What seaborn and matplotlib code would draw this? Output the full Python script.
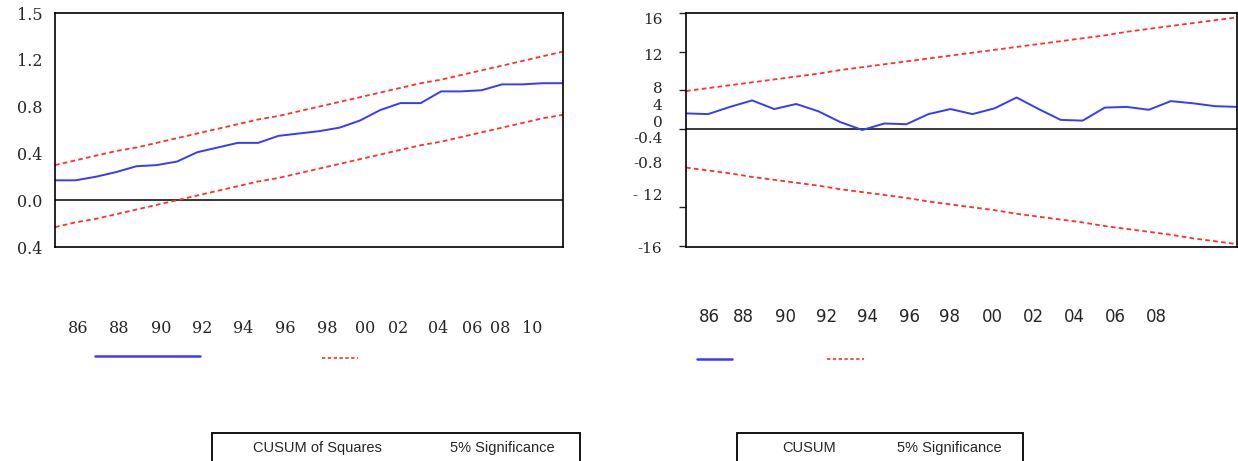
import matplotlib
matplotlib.use('Agg')
import matplotlib.pyplot as plt
import seaborn as sns
import pandas as pd
from matplotlib.lines import Line2D
from matplotlib.patches import Rectangle

# observations 1986-2011 (26 points)
years = list(range(1986, 2012))

# CUSUM of squares (left panel)
cusumsq = [0.17, 0.17, 0.20, 0.24, 0.29, 0.30, 0.33, 0.41, 0.45, 0.49, 0.49, 0.55, 0.57,
           0.59, 0.62, 0.68, 0.77, 0.83, 0.83, 0.93, 0.93, 0.94, 0.99, 0.99, 1.00, 1.00]
cusumsq_upper = [0.30, 0.34, 0.38, 0.42, 0.45, 0.49, 0.53, 0.57, 0.61, 0.65, 0.69, 0.72, 0.76,
                 0.80, 0.84, 0.88, 0.92, 0.96, 1.00, 1.03, 1.07, 1.11, 1.15, 1.19, 1.23, 1.27]
cusumsq_lower = [-0.23, -0.19, -0.16, -0.12, -0.08, -0.04, 0.00, 0.04, 0.08, 0.12, 0.16, 0.19, 0.23,
                 0.27, 0.31, 0.35, 0.39, 0.43, 0.47, 0.50, 0.54, 0.58, 0.62, 0.66, 0.70, 0.73]

# CUSUM (right panel)
cusum = [2.1, 2.0, 3.0, 3.9, 2.7, 3.4, 2.4, 0.9, -0.2, 0.7, 0.6, 2.0, 2.7,
         2.0, 2.8, 4.3, 2.7, 1.2, 1.1, 2.9, 3.0, 2.6, 3.8, 3.5, 3.1, 3.0]
cusum_upper = [5.2, 5.6, 6.0, 6.4, 6.8, 7.2, 7.6, 8.1, 8.5, 8.9, 9.3, 9.7, 10.1,
               10.5, 10.9, 11.3, 11.7, 12.1, 12.5, 12.9, 13.4, 13.8, 14.2, 14.6, 15.0, 15.4]
cusum_lower = [-5.4, -5.8, -6.2, -6.7, -7.1, -7.5, -7.9, -8.4, -8.8, -9.2, -9.6, -10.1, -10.5,
               -10.9, -11.3, -11.8, -12.2, -12.6, -13.0, -13.5, -13.9, -14.3, -14.7, -15.2, -15.6, -16.0]

left_xlabels = ['86', '88', '90', '92', '94', '96', '98', '00', '02', '04', '06', '08', '10']
right_xlabels = ['86', '88', '90', '92', '94', '96', '98', '00', '02', '04', '06', '08']
left_yticks = [-0.4, 0.0, 0.4, 0.8, 1.2, 1.6]
left_ylabels = ['0.4', '0.0', '0.4', '0.8', '1.2', '1.5']
right_ymarks = [16, 10.6, 5.4, 0, -10.9, -16.3]
right_ylabel_pos = [15.3, 10.2, 5.7, 3.3, 1.0, -1.2, -4.7, -9.1, -16.4]
right_ylabels = ['16', '12', '8', '4', '0', '-0.4', '-0.8', '- 12', '-16']

sns.set_style('white')
BLUE = '#3a3aff'
RED = '#ff3030'
W, H = 1238, 461

fig = plt.figure(figsize=(W / 100, H / 100), dpi=100)


def px_axes(x0, y0, x1, y1):
    return fig.add_axes([x0 / W, 1 - y1 / H, (x1 - x0) / W, (y1 - y0) / H])


def draw_panel(ax, main, upper, lower):
    df = pd.DataFrame({'year': years, 'main': main, 'upper': upper, 'lower': lower})
    ax.axhline(0, color='black', lw=1.1, zorder=1)
    sns.lineplot(data=df, x='year', y='upper', color=RED, lw=1.3,
                 linestyle=(0, (2.6, 1.8)), ax=ax)
    sns.lineplot(data=df, x='year', y='lower', color=RED, lw=1.3,
                 linestyle=(0, (2.6, 1.8)), ax=ax)
    sns.lineplot(data=df, x='year', y='main', color=BLUE, lw=1.4, ax=ax)
    ax.set_xlim(years[0], years[-1])
    ax.set_xticks(years)
    ax.tick_params(axis='x', direction='out', length=4, width=1, labelbottom=False)
    ax.set_xlabel('')
    ax.set_ylabel('')
    for s in ax.spines.values():
        s.set_visible(True)
        s.set_color('black')
        s.set_linewidth(1.2)


# left panel: CUSUM of squares
ax1 = px_axes(55, 13, 563, 247)
draw_panel(ax1, cusumsq, cusumsq_upper, cusumsq_lower)
ax1.set_ylim(-0.4, 1.6)
ax1.set_yticks(left_yticks)
ax1.set_yticklabels(left_ylabels, fontfamily='DejaVu Serif', fontsize=11.5)
ax1.tick_params(axis='y', direction='out', length=4, width=1, pad=5)

# right panel: CUSUM
ax2 = px_axes(686, 13, 1237, 247)
draw_panel(ax2, cusum, cusum_upper, cusum_lower)
ax2.set_ylim(-16.3, 16)
ax2.set_yticks(right_ylabel_pos)
ax2.set_yticklabels(right_ylabels, fontfamily='DejaVu Serif', fontsize=11)
ax2.tick_params(axis='y', which='major', length=0, pad=17)
ax2.set_yticks(right_ymarks, minor=True)
ax2.tick_params(axis='y', which='minor', direction='out', length=5, width=1, left=True)

# year labels, detached below the plots as in the exported figure
left_label_x = [78, 119, 161, 202, 243, 285, 327, 365, 398, 438, 472, 500, 532]
for lab, x in zip(left_xlabels, left_label_x):
    fig.text(x / W, 1 - 328 / H, lab, ha='center', va='center',
             fontfamily='DejaVu Serif', fontsize=11.5)
right_label_x = [709, 743, 786, 827, 868, 909, 950, 992, 1033, 1074, 1115, 1156]
for lab, x in zip(right_xlabels, right_label_x):
    fig.text(x / W, 1 - 317 / H, lab, ha='center', va='center',
             fontfamily='DejaVu Sans', fontsize=12)

# legend keys
fig.add_artist(Line2D([95 / W, 200 / W], [1 - 356 / H] * 2, color=BLUE, lw=1.8))
fig.add_artist(Line2D([322 / W, 358 / W], [1 - 358 / H] * 2, color=RED, lw=1.2,
                      linestyle=(0, (2, 1.5))))
fig.add_artist(Line2D([697 / W, 732 / W], [1 - 359 / H] * 2, color=BLUE, lw=1.8))
fig.add_artist(Line2D([827 / W, 864 / W], [1 - 359 / H] * 2, color=RED, lw=1.2,
                      linestyle=(0, (2, 1.5))))

# legend boxes (cut off at the bottom)
for x0, x1 in [(212, 580), (737, 1023)]:
    fig.add_artist(Rectangle((x0 / W, -0.05), (x1 - x0) / W, (461 - 433) / H + 0.05,
                             transform=fig.transFigure, fill=False, ec='black', lw=1.3))
lt = dict(ha='left', va='center', fontfamily='Liberation Sans', fontsize=10.5)
fig.text(253 / W, 1 - 448 / H, 'CUSUM of Squares', **lt)
fig.text(450 / W, 1 - 448 / H, '5% Significance', **lt)
fig.text(782 / W, 1 - 448 / H, 'CUSUM', **lt)
fig.text(897 / W, 1 - 448 / H, '5% Significance', **lt)

fig.savefig('out.png', dpi=100)
